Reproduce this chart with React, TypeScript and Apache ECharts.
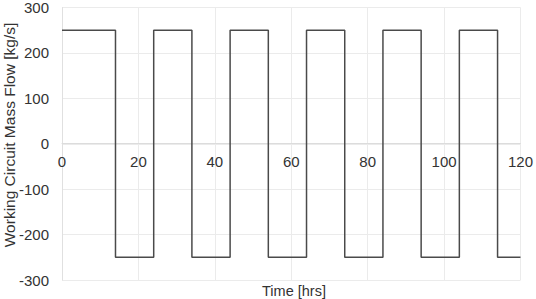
import React, { useEffect, useRef } from "react";
import * as echarts from "echarts";

const switchTimes = [0, 14, 24, 34, 44, 54, 64, 74, 84, 94, 104, 114, 120];
const flowLevels = [250, -250, 250, -250, 250, -250, 250, -250, 250, -250, 250, -250, -250];
const xTicks = [0, 20, 40, 60, 80, 100, 120];
const yTicks = [-300, -200, -100, 0, 100, 200, 300];

const FONT = "Liberation Sans, Arial, Helvetica, sans-serif";
const GRID_TOP = 7;
const GRID_BOTTOM = 19;
const H = 299;

export default function App() {
  const ref = useRef<HTMLDivElement>(null);
  useEffect(() => {
    if (!ref.current) return;
    const chart = echarts.init(ref.current, undefined, { renderer: "svg" });
    const data = switchTimes.map((t, i) => [t, flowLevels[i]]);
    const plotH = H - GRID_TOP - GRID_BOTTOM;
    const yMin = yTicks[0];
    const yMax = yTicks[yTicks.length - 1];
    // move the x axis (line + labels) from the bottom up to y = 0
    const zeroOffset = -plotH * (0 - yMin) / (yMax - yMin);
    chart.setOption({
      animation: false,
      backgroundColor: "#ffffff",
      grid: { left: 62, right: 12, top: GRID_TOP, bottom: GRID_BOTTOM, containLabel: false },
      xAxis: {
        type: "value",
        position: "bottom",
        offset: zeroOffset,
        min: xTicks[0],
        max: xTicks[xTicks.length - 1],
        interval: 20,
        axisLine: { show: true, onZero: false, lineStyle: { color: "#dcdcdc", width: 1 } },
        axisTick: { show: false },
        splitLine: { show: true, lineStyle: { color: "#ebebeb", width: 1 } },
        axisLabel: { color: "#333", fontSize: 15, fontFamily: FONT, margin: 10 },
      },
      yAxis: {
        type: "value",
        min: yMin,
        max: yMax,
        interval: 100,
        axisLine: { show: true, onZero: false, lineStyle: { color: "#e0e0e0", width: 1 } },
        axisTick: { show: false },
        splitLine: { show: true, lineStyle: { color: "#ebebeb", width: 1 } },
        axisLabel: { color: "#333", fontSize: 15, fontFamily: FONT, margin: 13 },
      },
      graphic: [
        {
          type: "text",
          x: 294,
          y: 291,
          style: {
            text: "Time [hrs]",
            fill: "#333",
            font: `14.5px ${FONT}`,
            textAlign: "center",
            textVerticalAlign: "middle",
          },
        },
        {
          type: "text",
          x: 9,
          y: 135,
          rotation: Math.PI / 2,
          style: {
            text: "Working Circuit Mass Flow [kg/s]",
            fill: "#333",
            font: `15.5px ${FONT}`,
            textAlign: "center",
            textVerticalAlign: "middle",
          },
        },
      ],
      series: [
        {
          type: "line",
          step: "end",
          data,
          showSymbol: false,
          symbol: "none",
          lineStyle: { color: "#4a4a4a", width: 1.5 },
        },
      ],
    });
    return () => chart.dispose();
  }, []);
  return <div ref={ref} style={{ width: 536, height: 299, position: "absolute", left: 0, top: 0 }} />;
}
